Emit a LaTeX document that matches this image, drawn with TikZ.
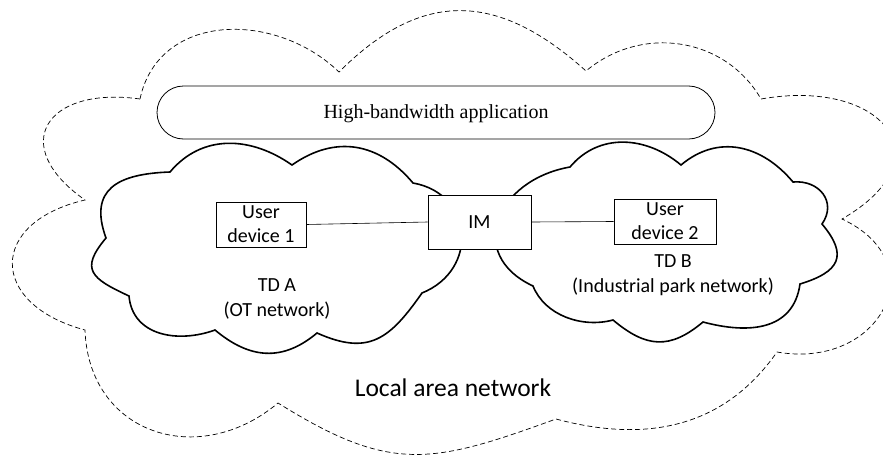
\documentclass[tikz,border=0pt]{standalone}
\usepackage{fontspec}
\setmainfont{Carlito}
\newfontfamily\timesfont{Liberation Serif}
\begin{document}
\begin{tikzpicture}[x=1pt,y=-1pt,
  outercloud/.style={draw=black,line width=0.7pt,dash pattern=on 5pt off 3pt},
  tdcloud/.style={draw=black,fill=white,line width=1.6pt,line join=miter},
  devbox/.style={draw=black,fill=white,line width=0.8pt,inner sep=0pt,align=center,font=\fontsize{20}{24}\selectfont},
  link/.style={draw=black,line width=0.6pt},
  tdlabel/.style={align=center,inner sep=0pt,font=\fontsize{20}{24.5}\selectfont}]
\useasboundingbox (0,0) rectangle (883,455);
\begin{scope}
\clip (0,0) rectangle (883,455);
\draw[outercloud] (140,99)
  to[out=78,in=136,looseness=1.13] (339,72)
  to[out=45,in=138,looseness=1.22] (586,71)
  to[out=40,in=120,looseness=1.04] (761,99)
  to[out=10,in=30,looseness=2.17] (842,219)
  to[out=-25,in=-10,looseness=1.8] (777,352)
  to[out=235,in=345,looseness=1.03] (556,419)
  to[out=200,in=328,looseness=1.22] (278,403)
  to[out=220,in=272,looseness=1.29] (85,330)
  to[out=165,in=193,looseness=1.97] (85,200)
  to[out=145,in=172,looseness=2.11] (140,99) -- cycle;
\end{scope}
\node[draw=black,line width=0.8pt,rounded corners=26.5pt,minimum width=558pt,minimum height=53pt,inner sep=0pt,text height=15pt,text depth=3pt,font=\timesfont\fontsize{20}{24}\selectfont] (hb) at (436,112.5) {High-bandwidth application};
\draw[tdcloud] (170,172)
  to[out=50,in=145,looseness=1.05] (292,165)
  to[out=35,in=130,looseness=1.11] (413,183)
  to[out=-10,in=22,looseness=1.43] (422,293)
  to[out=235,in=336,looseness=1.29] (317,333)
  to[out=220,in=320,looseness=1.13] (215,330)
  to[out=200,in=275,looseness=1.1] (129,296)
  to[out=155,in=230,looseness=1.7] (106,238)
  to[out=110,in=182,looseness=1.45] (170,172) -- cycle;
\draw[tdcloud] (570,167)
  to[out=50,in=140,looseness=1.04] (681,165)
  to[out=40,in=130,looseness=1.1] (793,182)
  to[out=5,in=55,looseness=1.33] (822,224)
  to[out=-50,in=17,looseness=1.66] (800,284)
  to[out=262,in=345,looseness=1.16] (703,322)
  to[out=220,in=320,looseness=1.23] (613,320)
  to[out=195,in=292,looseness=0.94] (533,286)
  to[out=155,in=190,looseness=1.54] (570,167) -- cycle;
\node[devbox,minimum width=90pt,minimum height=45pt] (ud1) at (261,224.5) {User\\device 1};
\node[devbox,minimum width=102pt,minimum height=45pt] (ud2) at (665,221.5) {User\\device 2};
\node[devbox,minimum width=103pt,minimum height=54pt] (im) at (479.5,222) {IM};
\draw[link] (ud1.east) -- (im.west);
\draw[link] (im.east) -- (ud2.west);
\node[tdlabel] (tda) at (277,299) {TD A\\(OT network)};
\node[tdlabel] (tdb) at (673,275) {TD B\\(Industrial park network)};
\node[inner sep=0pt,font=\fontsize{25.5}{30}\selectfont] (lan) at (453,388) {Local area network};
\end{tikzpicture}
\end{document}
